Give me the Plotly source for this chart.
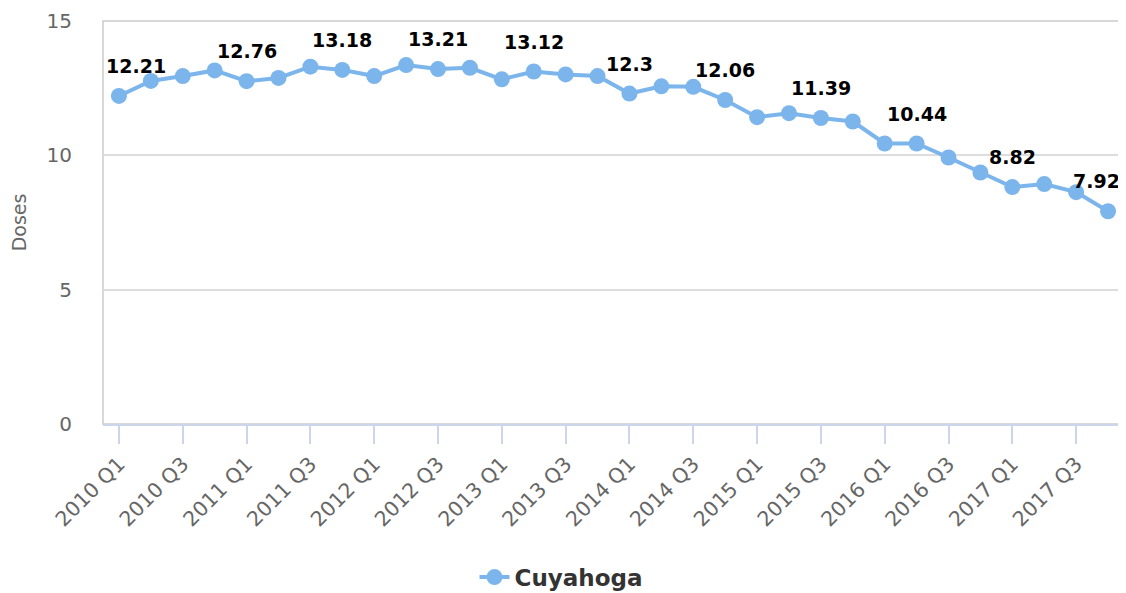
import plotly.graph_objects as go

quarters = [f"{y} Q{q}" for y in range(2010, 2018) for q in range(1, 5)]
doses = [12.21, 12.77, 12.95, 13.16, 12.76, 12.88, 13.30, 13.18,
         12.95, 13.36, 13.21, 13.26, 12.83, 13.12, 13.01, 12.95,
         12.30, 12.57, 12.55, 12.06, 11.42, 11.57, 11.39, 11.26,
         10.44, 10.44, 9.92, 9.36, 8.82, 8.93, 8.63, 7.92]
labelled = [0, 4, 7, 10, 13, 16, 19, 22, 25, 28, 31]  # points that show a value label
tick_labels = quarters[::2]

blue = "#7cb5ec"
font = "DejaVu Sans"

fig = go.Figure()
fig.add_trace(go.Scatter(
    x=quarters, y=doses, name="Cuyahoga", mode="lines+markers",
    line=dict(color=blue, width=4),
    marker=dict(color=blue, size=16),
))

for i in labelled:
    # highcharts pushes edge labels back inside the plot
    anchor, shift = "center", 0
    if i == 0:
        anchor, shift = "left", -15
    elif i == len(quarters) - 1:
        anchor, shift = "right", 14
    fig.add_annotation(
        x=quarters[i], y=doses[i], text=f"{doses[i]:g}", showarrow=False,
        yshift=30, xanchor=anchor, xshift=shift,
        font=dict(family=font, size=19, color="#000000", weight="bold"),
    )

fig.add_shape(type="rect", xref="paper", yref="paper", x0=0, x1=1, y0=0, y1=1,
              line=dict(color="#cccccc", width=1.5), layer="below")

fig.update_xaxes(
    range=[-0.5, len(quarters) - 0.5], tickvals=tick_labels, ticktext=tick_labels,
    tickangle=-45, ticks="outside", ticklen=18, tickwidth=1.5, tickcolor="#ccd6eb",
    showline=True, linecolor="#ccd6eb", linewidth=2, showgrid=False, zeroline=False,
    automargin=False,
    tickfont=dict(family=font, size=20.5, color="#666666"),
)
fig.update_yaxes(
    range=[0, 15], dtick=5, showgrid=True, gridcolor="#dddddd", gridwidth=1.5,
    zeroline=False, ticklabelstandoff=30, automargin=False,
    tickfont=dict(family=font, size=20, color="#666666"),
    title=dict(text="Doses", font=dict(family=font, size=19, color="#666666"), standoff=22),
)

# page body has an 8px margin, so the figure is offset a little in the window
fig.update_layout(
    width=1118, height=593,
    margin=dict(l=95, r=2, t=13, b=171),
    plot_bgcolor="white", paper_bgcolor="white",
    showlegend=True,
    legend=dict(orientation="h", x=0.4486, xanchor="center",
                y=-0.38, yanchor="middle",
                font=dict(family=font, size=23, color="#333333", weight="bold")),
)

fig.write_html("out.html")
